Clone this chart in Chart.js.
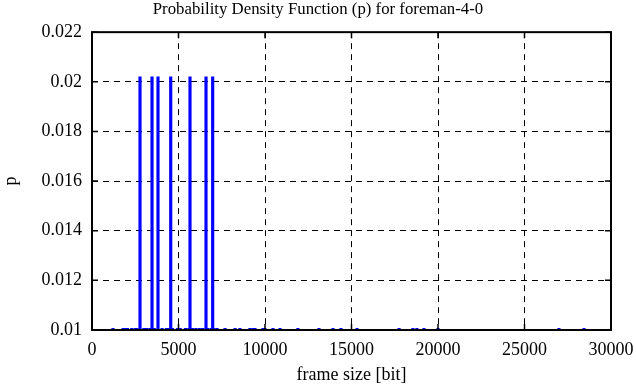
<!DOCTYPE html>
<html>
<head>
<meta charset="utf-8">
<script src="https://cdn.jsdelivr.net/npm/chart.js@4.4.1/dist/chart.umd.min.js"></script>
<style>
  html, body { margin: 0; padding: 0; background: #fff; }
  #wrap { width: 636px; height: 387px; }
</style>
</head>
<body>
<div id="wrap"><canvas id="pdf"></canvas></div>
<script>
const frameSizes = [
  1214, 1800, 1950, 2050, 2300, 2500, 2600, 2775, 3000, 3150, 3350, 3470,
  3600, 3815, 4050, 4300, 4450, 4550, 4650, 4950, 5100, 5400, 5600, 5665,
  5800, 6000, 6200, 6400, 6590, 6700, 6900, 6975, 7050, 7230, 7690, 8270,
  8550, 9130, 9310, 9420, 9880, 10000, 10460, 10870, 11900, 13120, 13930,
  14390, 15320, 17750, 18550, 18780, 19190, 20000, 26990, 28440
];
const density = [
  0.01007, 0.01007, 0.01007, 0.01007, 0.01007, 0.01007, 0.01007, 0.0202, 0.01007, 0.01007, 0.01007, 0.0202,
  0.01007, 0.0202, 0.01007, 0.01007, 0.01007, 0.0202, 0.01007, 0.01007, 0.01007, 0.01007, 0.01007, 0.0202,
  0.01007, 0.01007, 0.01007, 0.01007, 0.0202, 0.01007, 0.01007, 0.0202, 0.01007, 0.01007, 0.01007, 0.01007,
  0.01007, 0.01007, 0.01007, 0.01007, 0.01007, 0.01007, 0.01007, 0.01007, 0.01007, 0.01007, 0.01007,
  0.01007, 0.01007, 0.01007, 0.01007, 0.01007, 0.01007, 0.01007, 0.01007, 0.01007
];

const xTicks = [0, 5000, 10000, 15000, 20000, 25000, 30000];
const yTicks = [0.01, 0.012, 0.014, 0.016, 0.018, 0.02, 0.022];
const yTickLabels = ['0.01', '0.012', '0.014', '0.016', '0.018', '0.02', '0.022'];

const FONT = 'Liberation Serif';

// gnuplot-like frame: solid border with inward ticks on all four sides
const frameBox = {
  id: 'frameBox',
  afterDatasetsDraw(chart) {
    const { ctx, chartArea: a, scales } = chart;
    const len = 6;
    ctx.save();
    ctx.strokeStyle = '#000';
    ctx.lineWidth = 1.5;
    ctx.beginPath();
    xTicks.forEach(v => {
      const px = scales.x.getPixelForValue(v);
      ctx.moveTo(px, a.bottom); ctx.lineTo(px, a.bottom - len);
      ctx.moveTo(px, a.top); ctx.lineTo(px, a.top + len);
    });
    yTicks.forEach(v => {
      const py = scales.y.getPixelForValue(v);
      ctx.moveTo(a.left, py); ctx.lineTo(a.left + len, py);
      ctx.moveTo(a.right, py); ctx.lineTo(a.right - len, py);
    });
    ctx.stroke();
    ctx.lineWidth = 2;
    ctx.strokeRect(a.left, a.top, a.right - a.left, a.bottom - a.top);
    ctx.restore();
  }
};

const ctx = document.getElementById('pdf').getContext('2d');
new Chart(ctx, {
  type: 'bar',
  data: {
    datasets: [{
      label: 'p',
      data: frameSizes.map((s, i) => ({ x: s, y: density[i] })),
      backgroundColor: '#0000ff',
      borderWidth: 0,
      barThickness: 2.5,
    }]
  },
  options: {
    responsive: true,
    maintainAspectRatio: false,
    animation: false,
    layout: { padding: { left: 0, right: 0, top: 0, bottom: 0 } },
    plugins: {
      legend: { display: false },
      tooltip: { enabled: false },
      title: {
        display: true,
        text: 'Probability Density Function (p) for foreman-4-0',
        color: '#000',
        font: { family: FONT, size: 16.8, weight: 'normal' },
        padding: { top: 0, bottom: 12 },
      },
    },
    scales: {
      x: {
        type: 'linear',
        min: 0,
        max: 30000,
        offset: false,
        afterBuildTicks: (scale) => { scale.ticks = xTicks.map(v => ({ value: v })); },
        afterFit: (scale) => {
          scale.height = 57;
          scale.paddingLeft = 0;
          scale.paddingRight = 25;
        },
        ticks: {
          color: '#000',
          font: { family: FONT, size: 18 },
          padding: 9,
          maxRotation: 0,
          callback: (v) => String(v),
        },
        grid: { color: '#000', lineWidth: 1, drawTicks: false, offset: false },
        border: { display: false, dash: [6, 5] },
        title: {
          display: true,
          text: 'frame size [bit]',
          color: '#000',
          font: { family: FONT, size: 18 },
          padding: { top: 0, bottom: 1 },
        },
      },
      y: {
        min: 0.01,
        max: 0.022,
        afterBuildTicks: (scale) => { scale.ticks = yTicks.map(v => ({ value: v })); },
        afterFit: (scale) => { scale.width = 92; },
        ticks: {
          color: '#000',
          font: { family: FONT, size: 18 },
          padding: 10,
          callback: (v) => yTickLabels[yTicks.findIndex(t => Math.abs(t - v) < 1e-9)],
        },
        grid: { color: '#000', lineWidth: 1, drawTicks: false },
        border: { display: false, dash: [6, 5] },
        title: {
          display: true,
          text: 'p',
          color: '#000',
          font: { family: FONT, size: 18 },
          padding: { top: 0, bottom: 0 },
        },
      },
    },
  },
  plugins: [frameBox],
});
</script>
</body>
</html>
